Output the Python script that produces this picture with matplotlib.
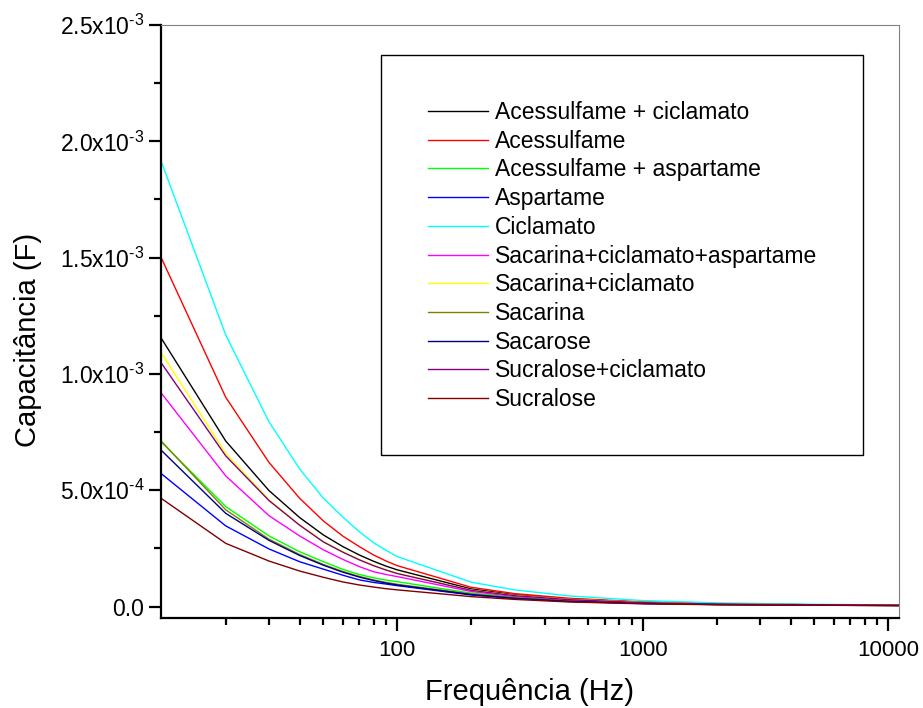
import matplotlib
matplotlib.use('Agg')
import matplotlib.pyplot as plt
from matplotlib.patches import Rectangle
from matplotlib.ticker import FixedLocator, LogLocator, NullFormatter, FixedFormatter
import numpy as np

plt.rcParams['font.family'] = ['Liberation Sans', 'DejaVu Sans']
plt.rcParams['mathtext.fontset'] = 'custom'
plt.rcParams['mathtext.rm'] = 'Liberation Sans'

#########
# data  #
#########
freq = [11, 20, 30, 40, 50, 60, 70, 80, 90, 100, 200, 300, 500, 1000, 2000, 5000, 11000]

# capacitance values in units of 1e-3 F
acess_cicl = [1.149, 0.712, 0.499, 0.383, 0.308, 0.258, 0.222, 0.195, 0.174, 0.158, 0.076, 0.051, 0.033, 0.019, 0.012, 0.008, 0.006]
acess = [1.493, 0.900, 0.620, 0.466, 0.368, 0.303, 0.258, 0.222, 0.196, 0.176, 0.083, 0.056, 0.036, 0.020, 0.013, 0.008, 0.006]
acess_asp = [0.705, 0.430, 0.304, 0.236, 0.193, 0.160, 0.138, 0.124, 0.114, 0.107, 0.058, 0.040, 0.026, 0.015, 0.010, 0.007, 0.005]
aspartame = [0.569, 0.347, 0.248, 0.193, 0.161, 0.135, 0.115, 0.104, 0.097, 0.090, 0.050, 0.035, 0.022, 0.013, 0.009, 0.006, 0.005]
ciclamato = [1.905, 1.168, 0.795, 0.592, 0.466, 0.385, 0.322, 0.275, 0.242, 0.215, 0.105, 0.072, 0.046, 0.026, 0.016, 0.010, 0.007]
sac_cicl_asp = [0.914, 0.562, 0.391, 0.304, 0.244, 0.203, 0.172, 0.150, 0.138, 0.129, 0.065, 0.044, 0.028, 0.016, 0.010, 0.007, 0.005]
sac_cicl = [1.086, 0.659, 0.460, 0.352, 0.280, 0.236, 0.203, 0.178, 0.159, 0.144, 0.071, 0.048, 0.031, 0.018, 0.011, 0.008, 0.006]
sacarina = [0.708, 0.416, 0.290, 0.224, 0.181, 0.151, 0.130, 0.115, 0.104, 0.096, 0.054, 0.037, 0.024, 0.014, 0.009, 0.006, 0.005]
sacarose = [0.669, 0.401, 0.285, 0.220, 0.178, 0.148, 0.127, 0.112, 0.101, 0.093, 0.052, 0.036, 0.023, 0.014, 0.009, 0.006, 0.005]
sucr_cicl = [1.043, 0.648, 0.456, 0.350, 0.278, 0.234, 0.201, 0.176, 0.157, 0.142, 0.070, 0.047, 0.030, 0.017, 0.011, 0.008, 0.006]
sucralose = [0.463, 0.272, 0.196, 0.153, 0.126, 0.106, 0.093, 0.084, 0.077, 0.072, 0.043, 0.031, 0.020, 0.012, 0.008, 0.006, 0.004]

labels = ['Acessulfame + ciclamato', 'Acessulfame', 'Acessulfame + aspartame', 'Aspartame',
          'Ciclamato', 'Sacarina+ciclamato+aspartame', 'Sacarina+ciclamato', 'Sacarina',
          'Sacarose', 'Sucralose+ciclamato', 'Sucralose']
series = [acess_cicl, acess, acess_asp, aspartame, ciclamato, sac_cicl_asp, sac_cicl,
          sacarina, sacarose, sucr_cicl, sucralose]
colors = ['#000000', '#FF0000', '#00FF00', '#0000FF', '#00FFFF', '#FF00FF', '#FFFF00',
          '#808000', '#000080', '#800080', '#800000']

y_ticks = [0.0, 5e-4, 1e-3, 1.5e-3, 2e-3, 2.5e-3]
y_tick_labels = ['0.0', '5.0x10$^{\u20104}$', '1.0x10$^{\u20103}$', '1.5x10$^{\u20103}$',
                 '2.0x10$^{\u20103}$', '2.5x10$^{\u20103}$']
x_ticks = [100, 1000, 10000]
x_tick_labels = ['100', '1000', '10000']

############
# plotting #
############
fig = plt.figure(figsize=(9.23, 7.08), dpi=100)
ax = fig.add_axes([0.1744, 0.1271, 0.7996, 0.8376])

for vals, lab, col in zip(series, labels, colors):
    ax.plot(freq, np.array(vals) * 1e-3, color=col, linewidth=1.0, label=lab)

ax.set_xscale('log')
ax.set_xlim(10.9, 11050)
ax.set_ylim(-4.9e-5, 2.5e-3)

ax.xaxis.set_major_locator(FixedLocator(x_ticks))
ax.xaxis.set_major_formatter(FixedFormatter(x_tick_labels))
ax.xaxis.set_minor_locator(LogLocator(base=10, subs=np.arange(2, 10)))
ax.xaxis.set_minor_formatter(NullFormatter())
ax.yaxis.set_major_locator(FixedLocator(y_ticks))
ax.yaxis.set_major_formatter(FixedFormatter(y_tick_labels))
ax.yaxis.set_minor_locator(FixedLocator(np.arange(2.5e-4, 2.5e-3, 5e-4)))

for side in ['left', 'bottom']:
    ax.spines[side].set_linewidth(1.6)
for side in ['top', 'right']:
    ax.spines[side].set_linewidth(0.8)
    ax.spines[side].set_color('#808080')

ax.tick_params(which='major', direction='out', length=9, width=1.6, labelsize=16)
ax.tick_params(axis='x', which='major', pad=7)
ax.tick_params(axis='y', which='major', labelsize=16.5, pad=3)
ax.tick_params(which='minor', direction='out', length=5, width=1.6)
ax.tick_params(top=False, right=False, which='both')

ax.set_xlabel('Frequência (Hz)', fontsize=21, labelpad=12)
ax.set_ylabel('Capacitância (F)', fontsize=21)
ax.yaxis.set_label_coords(-0.161, 0.469)

# legend box drawn separately, bigger than the entries
ax.add_patch(Rectangle((0.298, 0.275), 0.653, 0.674, transform=ax.transAxes,
                       fill=False, edgecolor='black', linewidth=1.0, zorder=5))
leg = ax.legend(loc='upper left', bbox_to_anchor=(0.362, 0.872), frameon=False,
                fontsize=16.5, handlelength=2.6, handletextpad=0.3, labelspacing=0.25,
                borderaxespad=0, borderpad=0)

plt.savefig('out.png', dpi=100)
